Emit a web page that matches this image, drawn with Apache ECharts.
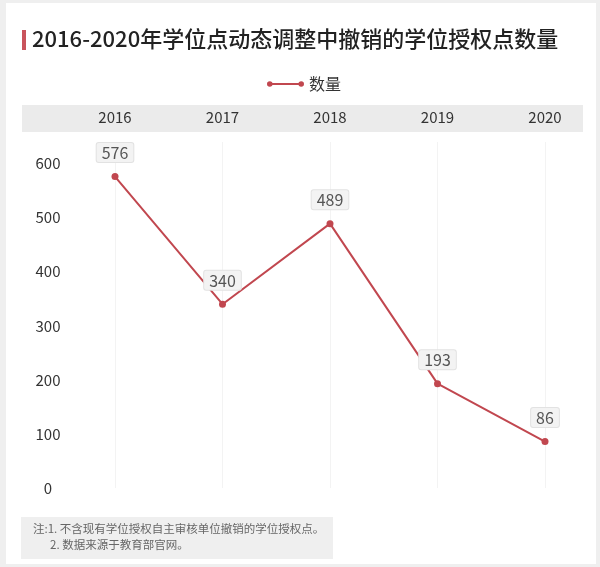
<!DOCTYPE html>
<html>
<head>
<meta charset="utf-8">
<script src="https://cdn.jsdelivr.net/npm/echarts@6/dist/echarts.min.js"></script>
<style>
html,body{margin:0;padding:0;background:#fff;}
#main{width:600px;height:567px;}
</style>
</head>
<body>
<div id="main"></div>
<script>
var years=['2016','2017','2018','2019','2020'];//年份
var counts=[576,340,489,193,86];//撤销数量
var yTicks=[0,100,200,300,400,500,600];
var seriesName='数量';
var titleText='2016-2020年学位点动态调整中撤销的学位授权点数量';
var notes=['注:1. 不含现有学位授权自主审核单位撤销的学位授权点。','2. 数据来源于教育部官网。'];

var font='"Noto Sans CJK SC", "Noto Sans", sans-serif';
var red='#c1474f';
var myChart=echarts.init(document.getElementById('main'));
var option={
	backgroundColor:'#fff',
	textStyle:{fontFamily:font},
	animation:false,
	graphic:[
		// 外框
		{type:'rect',shape:{x:0,y:0,width:6,height:567},style:{fill:'#efefef'}},
		{type:'rect',shape:{x:0,y:0,width:600,height:3},style:{fill:'#efefef'}},
		{type:'rect',shape:{x:596,y:0,width:4,height:567},style:{fill:'#efefef'}},
		{type:'rect',shape:{x:0,y:564,width:600,height:3},style:{fill:'#efefef'}},
		// 标题
		{type:'rect',shape:{x:22,y:30,width:4,height:20},style:{fill:'#c9545c'}},
		{type:'text',left:32,top:28,style:{text:titleText,fontSize:22,fontWeight:500,fill:'#222',fontFamily:font}},
		// x轴灰色背景
		{type:'rect',z:-1,shape:{x:22,y:105,width:561,height:27},style:{fill:'#ebebeb'}},
		// 注释
		{type:'rect',shape:{x:21,y:517,width:312,height:42},style:{fill:'#efefef'}},
		{type:'text',left:33,top:523,style:{text:notes[0],fontSize:11.5,fill:'#666',fontFamily:font}},
		{type:'text',left:50,top:539,style:{text:notes[1],fontSize:11.5,fill:'#666',fontFamily:font}}
	],
	legend:{
		left:262,
		top:71,
		itemWidth:37,
		itemHeight:7,
		itemGap:11,
		data:[{name:seriesName,icon:'path://M0,4a3,3 0 1,1 6,0a3,3 0 1,1 -6,0ZM34,4a3,3 0 1,1 6,0a3,3 0 1,1 -6,0ZM3,3L37,3L37,5L3,5Z'}],
		itemStyle:{color:red,borderWidth:0},
		lineStyle:{width:0},
		textStyle:{fontSize:16,color:'#333',fontFamily:font}
	},
	grid:{left:115,right:55,top:142,bottom:79},
	xAxis:{
		type:'category',
		position:'top',
		boundaryGap:false,
		data:years,
		axisLine:{show:false},
		axisTick:{show:false},
		axisLabel:{fontSize:15,color:'#333',margin:17,fontFamily:font},
		splitLine:{show:true,lineStyle:{color:'#f3f3f3',width:1}}
	},
	yAxis:{
		type:'value',
		min:0,
		max:640,
		interval:100,
		axisLine:{show:false},
		axisTick:{show:false},
		splitLine:{show:false},
		axisLabel:{fontSize:15,color:'#333',margin:67,align:'center',showMaxLabel:false,fontFamily:font,
			formatter:function(v){return yTicks.indexOf(v)>=0?String(v):'';}}
	},
	series:[{
		name:seriesName,
		type:'line',
		data:counts,
		symbol:'circle',
		symbolSize:7,
		itemStyle:{color:red},
		lineStyle:{color:red,width:2},
		label:{
			show:true,
			position:'top',
			distance:11,
			fontSize:16,
			color:'#555',
			backgroundColor:'#f3f3f3',
			borderColor:'#e2e2e2',
			borderWidth:1,
			borderRadius:2,
			padding:[2,5,1,5],
			fontFamily:font
		}
	}]
};
myChart.setOption(option);
</script>
</body>
</html>
